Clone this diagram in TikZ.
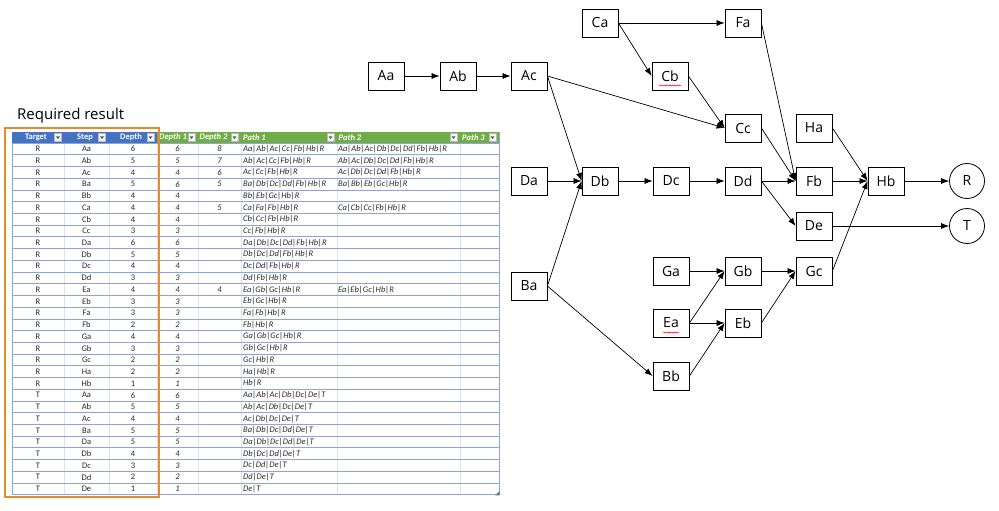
\documentclass[tikz,border=0pt]{standalone}
\usepackage{fontspec}
\setmainfont{Open Sans}
\newfontfamily\tabfont{Carlito}
\usetikzlibrary{arrows.meta,decorations.pathmorphing}
\definecolor{hdrblue}{RGB}{68,114,196}
\definecolor{hdrgreen}{RGB}{112,173,71}
\definecolor{rowline}{RGB}{140,165,212}
\definecolor{colline}{RGB}{218,226,240}
\definecolor{frameorange}{RGB}{228,140,40}
\definecolor{celltext}{RGB}{40,40,40}
\newcommand\tabrowx[8]{%
  \pgfmathsetmacro\yy{149.06+11.72*#1}%
  \node[cellc] (tg#1) at (38,\yy) {#2};
  \node[cellc] (st#1) at (86.5,\yy) {#3};
  \node[cellc] (dp#1) at (133,\yy) {#4};
  \node[celli] (da#1) at (177.5,\yy) {#5};
  \if\relax\detokenize{#6}\relax\else\node[celli] (db#1) at (219.5,\yy) {#6};\fi
  \node[cellp] (pa#1) at (243,\yy) {#7};
  \if\relax\detokenize{#8}\relax\else\node[cellp] (pb#1) at (338,\yy) {#8};\fi
}
\begin{document}
\begin{tikzpicture}[x=1pt,y=-1pt,
  box/.style={draw, line width=0.8pt, minimum width=36pt, minimum height=28pt, inner sep=0pt, font=\fontsize{14}{16}\selectfont},
  endc/.style={draw, circle, line width=0.8pt, minimum size=35pt, inner sep=0pt, font=\fontsize{14}{16}\selectfont},
  conn/.style={-{Latex[length=8pt,width=6pt]}, line width=0.7pt},
  cellc/.style={inner sep=0pt, font=\tabfont\fontsize{8.5}{9}\selectfont, text=celltext},
  celli/.style={inner sep=0pt, font=\tabfont\itshape\fontsize{8.5}{9}\selectfont, text=celltext},
  cellp/.style={anchor=west, inner sep=0pt, font=\tabfont\itshape\fontsize{8.5}{9}\selectfont, text=celltext},
  hdrc/.style={inner sep=0pt, text=white, font=\tabfont\bfseries\fontsize{8.5}{9}\selectfont},
  hdrl/.style={anchor=west, inner sep=0pt, text=white, font=\tabfont\bfseries\itshape\fontsize{8.5}{9}\selectfont},
  ddbtn/.style={draw=gray!55, fill=gray!8, minimum width=7pt, minimum height=8pt, inner sep=0pt},
  spell/.style={red, line width=0.5pt, decorate, decoration={snake, amplitude=0.6pt, segment length=2.5pt}}
]
\useasboundingbox (0,0) rectangle (999,511);

% ---------- title ----------
\node[anchor=west, inner sep=0pt, font=\fontsize{15}{17}\selectfont] (title) at (17,116) {Required result};

% ---------- table ----------
\fill[hdrblue] (12,131.5) rectangle (157,143.2);
\fill[hdrgreen] (157,131.5) rectangle (499,143.2);
\foreach \x in {64,109,157,198,241,337,460}
  \draw[colline, line width=0.8pt] (\x,143.2) -- (\x,494.8);
\foreach \i in {0,...,30}
  \draw[rowline, line width=1pt] (12,{143.2+11.72*\i}) -- (499,{143.2+11.72*\i});
\draw[rowline, line width=0.9pt] (12,143.2) -- (12,494.8);
\draw[rowline, line width=0.9pt] (499,131.5) -- (499,494.8);
\fill[rowline!70!black] (499.5,491) -- (499.5,495.3) -- (495.2,495.3) -- cycle;

\node[hdrc] (hT) at (36,137.4) {Target};
\node[hdrc] (hS) at (85,137.4) {Step};
\node[hdrc] (hD) at (131,137.4) {Depth};
\node[hdrl] (hD1) at (159,137.4) {Depth 1};
\node[hdrl] (hD2) at (199.5,137.4) {Depth 2};
\node[hdrl] (hP1) at (243,137.4) {Path 1};
\node[hdrl] (hP2) at (338.5,137.4) {Path 2};
\node[hdrl] (hP3) at (462,137.4) {Path 3};
\foreach \bx/\bn in {58/b1,102/b2,150.5/b3,191.5/b4,234.5/b5,330.5/b6,453.5/b7,492.5/b8}{
  \node[ddbtn] (\bn) at (\bx,137.4) {};
  \fill[gray!70!black] ([xshift=-2pt,yshift=1pt]\bn.center) -- ([xshift=2pt,yshift=1pt]\bn.center) -- ([yshift=-1.6pt]\bn.center) -- cycle;
}

\tabrowx{0}{R}{Aa}{6}{6}{8}{Aa|Ab|Ac|Cc|Fb|Hb|R}{Aa|Ab|Ac|Db|Dc|Dd|Fb|Hb|R}
\tabrowx{1}{R}{Ab}{5}{5}{7}{Ab|Ac|Cc|Fb|Hb|R}{Ab|Ac|Db|Dc|Dd|Fb|Hb|R}
\tabrowx{2}{R}{Ac}{4}{4}{6}{Ac|Cc|Fb|Hb|R}{Ac|Db|Dc|Dd|Fb|Hb|R}
\tabrowx{3}{R}{Ba}{5}{6}{5}{Ba|Db|Dc|Dd|Fb|Hb|R}{Ba|Bb|Eb|Gc|Hb|R}
\tabrowx{4}{R}{Bb}{4}{4}{}{Bb|Eb|Gc|Hb|R}{}
\tabrowx{5}{R}{Ca}{4}{4}{5}{Ca|Fa|Fb|Hb|R}{Ca|Cb|Cc|Fb|Hb|R}
\tabrowx{6}{R}{Cb}{4}{4}{}{Cb|Cc|Fb|Hb|R}{}
\tabrowx{7}{R}{Cc}{3}{3}{}{Cc|Fb|Hb|R}{}
\tabrowx{8}{R}{Da}{6}{6}{}{Da|Db|Dc|Dd|Fb|Hb|R}{}
\tabrowx{9}{R}{Db}{5}{5}{}{Db|Dc|Dd|Fb|Hb|R}{}
\tabrowx{10}{R}{Dc}{4}{4}{}{Dc|Dd|Fb|Hb|R}{}
\tabrowx{11}{R}{Dd}{3}{3}{}{Dd|Fb|Hb|R}{}
\tabrowx{12}{R}{Ea}{4}{4}{4}{Ea|Gb|Gc|Hb|R}{Ea|Eb|Gc|Hb|R}
\tabrowx{13}{R}{Eb}{3}{3}{}{Eb|Gc|Hb|R}{}
\tabrowx{14}{R}{Fa}{3}{3}{}{Fa|Fb|Hb|R}{}
\tabrowx{15}{R}{Fb}{2}{2}{}{Fb|Hb|R}{}
\tabrowx{16}{R}{Ga}{4}{4}{}{Ga|Gb|Gc|Hb|R}{}
\tabrowx{17}{R}{Gb}{3}{3}{}{Gb|Gc|Hb|R}{}
\tabrowx{18}{R}{Gc}{2}{2}{}{Gc|Hb|R}{}
\tabrowx{19}{R}{Ha}{2}{2}{}{Ha|Hb|R}{}
\tabrowx{20}{R}{Hb}{1}{1}{}{Hb|R}{}
\tabrowx{21}{T}{Aa}{6}{6}{}{Aa|Ab|Ac|Db|Dc|De|T}{}
\tabrowx{22}{T}{Ab}{5}{5}{}{Ab|Ac|Db|Dc|De|T}{}
\tabrowx{23}{T}{Ac}{4}{4}{}{Ac|Db|Dc|De|T}{}
\tabrowx{24}{T}{Ba}{5}{5}{}{Ba|Db|Dc|Dd|De|T}{}
\tabrowx{25}{T}{Da}{5}{5}{}{Da|Db|Dc|Dd|De|T}{}
\tabrowx{26}{T}{Db}{4}{4}{}{Db|Dc|Dd|De|T}{}
\tabrowx{27}{T}{Dc}{3}{3}{}{Dc|Dd|De|T}{}
\tabrowx{28}{T}{Dd}{2}{2}{}{Dd|De|T}{}
\tabrowx{29}{T}{De}{1}{1}{}{De|T}{}

\draw[frameorange, line width=2.5pt] (5,128) rectangle (159,497);

% ---------- graph ----------
\node[box] (Aa) at (386,76) {Aa};
\node[box] (Ab) at (458,76) {Ab};
\node[box] (Ac) at (529,76) {Ac};
\node[box] (Ca) at (600,23) {Ca};
\node[box] (Cb) at (670,76) {Cb};
\node[box] (Fa) at (743,23) {Fa};
\node[box] (Cc) at (743,128) {Cc};
\node[box] (Ha) at (814,128) {Ha};
\node[box] (Da) at (529,181) {Da};
\node[box] (Db) at (600,181) {Db};
\node[box] (Dc) at (671,181) {Dc};
\node[box] (Dd) at (743,181) {Dd};
\node[box] (Fb) at (814,181) {Fb};
\node[box] (Hb) at (886,181) {Hb};
\node[endc] (R) at (967,181) {R};
\node[box] (De) at (814,226) {De};
\node[endc] (T) at (967,226) {T};
\node[box] (Ba) at (529,286) {Ba};
\node[box] (Ga) at (671,271) {Ga};
\node[box] (Gb) at (743,271) {Gb};
\node[box] (Gc) at (814,271) {Gc};
\node[box] (Ea) at (671,323) {Ea};
\node[box] (Eb) at (743,323) {Eb};
\node[box] (Bb) at (671,376) {Bb};

\draw[spell] ([xshift=-11pt,yshift=-9.5pt]Cb.center) -- ([xshift=11pt,yshift=-9.5pt]Cb.center);
\draw[spell] ([xshift=-8pt,yshift=-9.5pt]Ea.center) -- ([xshift=8pt,yshift=-9.5pt]Ea.center);

\foreach \a/\b in {Aa/Ab,Ab/Ac,Ac/Db,Ac/Cc,Ca/Fa,Ca/Cb,Cb/Cc,Da/Db,Db/Dc,Dc/Dd,Ba/Db,Ba/Bb,
  Fa/Fb,Cc/Fb,Dd/Fb,Dd/De,Ha/Hb,Fb/Hb,Gc/Hb,Hb/R,De/T,Ga/Gb,Gb/Gc,Ea/Gb,Ea/Eb,Bb/Eb,Eb/Gc}
  \draw[conn] (\a.east) -- (\b.west);
\end{tikzpicture}
\end{document}
